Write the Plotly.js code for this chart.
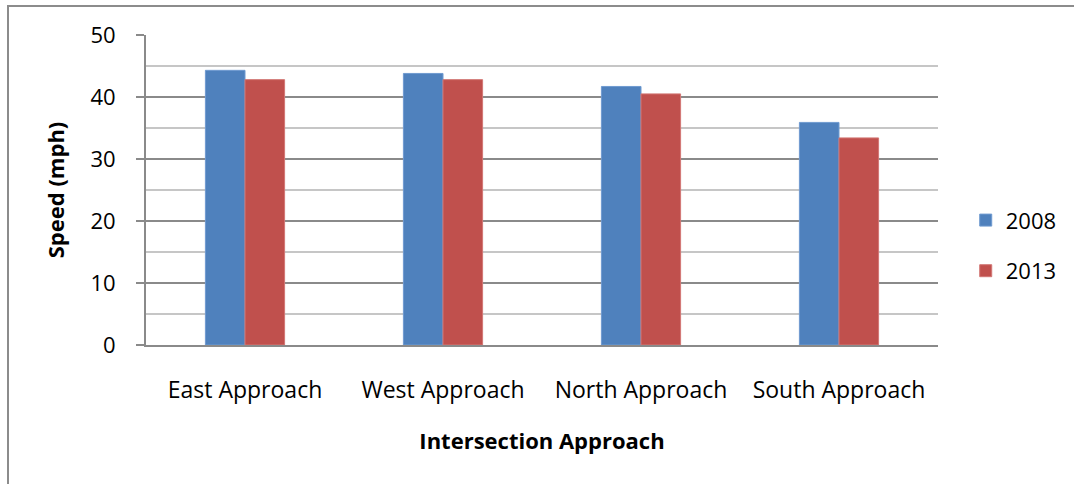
<!DOCTYPE html>
<html>
<head>
<meta charset="utf-8">
<script src="https://cdn.plot.ly/plotly-3.0.1.min.js"></script>
<style>
html, body { margin: 0; padding: 0; background: #fff; }
#wrap { position: relative; width: 1074px; height: 484px; overflow: hidden; }
#chart { width: 1074px; height: 484px; }
#frame { position: absolute; left: 7px; top: 5px; width: 1080px; height: 500px;
  border-left: 2px solid #8c8c8c; border-top: 2px solid #8c8c8c; pointer-events: none; }
</style>
</head>
<body>
<div id="wrap">
<div id="chart"></div>
<div id="frame"></div>
</div>
<script>
const categories = ["East Approach", "West Approach", "North Approach", "South Approach"];
const speed2008 = [44.3, 43.8, 41.7, 35.9];
const speed2013 = [42.8, 42.8, 40.5, 33.4];
const seriesNames = ["2008", "2013"];
const yTicks = [0, 10, 20, 30, 40, 50];

const FONT = "Open Sans, Lato, sans-serif";

const traces = [
  { type: "bar", name: seriesNames[0], x: categories, y: speed2008, legendgroup: "a",
    marker: { color: "#4F81BD", line: { color: "#6f9ad0", width: 1 } } },
  { type: "bar", name: seriesNames[1], x: categories, y: speed2013, legendgroup: "b",
    marker: { color: "#C0504D", line: { color: "#d27774", width: 1 } } }
];

const layout = {
  width: 1074, height: 484,
  margin: { l: 146, r: 132.5, t: 35, b: 139, pad: 0 },
  paper_bgcolor: "#ffffff", plot_bgcolor: "#ffffff",
  font: { family: FONT, size: 22, color: "#000000" },
  barmode: "group", bargap: 0.6, bargroupgap: 0,
  showlegend: true,
  legend: { x: 1.035, xanchor: "left", y: 0.32, yanchor: "middle",
    font: { family: FONT, size: 22, color: "#000" }, tracegroupgap: 19,
    bgcolor: "rgba(0,0,0,0)", borderwidth: 0 },
  xaxis: {
    type: "category", showgrid: false, zeroline: false,
    showline: true, linecolor: "#8a8a8a", linewidth: 2,
    ticks: "", ticklabelstandoff: 23,
    tickfont: { family: FONT, size: 23, color: "#000" },
    title: { text: "Intersection Approach", standoff: 30,
      font: { family: FONT, size: 22, color: "#000", weight: "bold" } },
    automargin: false, fixedrange: true
  },
  yaxis: {
    range: [0, 50], tickvals: yTicks, ticktext: yTicks.map(String),
    showgrid: true, gridcolor: "#8a8a8a", gridwidth: 2,
    zeroline: false, showline: true, linecolor: "#8a8a8a", linewidth: 2,
    ticks: "outside", ticklen: 8, tickwidth: 2, tickcolor: "#8a8a8a",
    ticklabelstandoff: 16,
    minor: { dtick: 5, tick0: 0, showgrid: true, gridcolor: "#c6c6c6", gridwidth: 2, ticks: "" },
    tickfont: { family: FONT, size: 22, color: "#000" },
    title: { text: "Speed (mph)", standoff: 20,
      font: { family: FONT, size: 22, color: "#000", weight: "bold" } },
    automargin: false, fixedrange: true
  }
};

Plotly.newPlot("chart", traces, layout, { displayModeBar: false, staticPlot: true });
</script>
</body>
</html>
